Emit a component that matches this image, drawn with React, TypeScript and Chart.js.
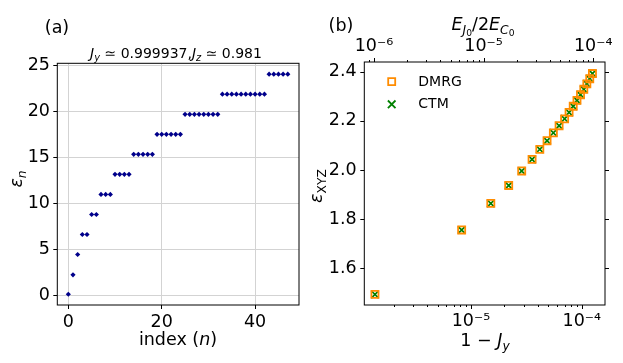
import React, { useEffect, useRef } from 'react';
import { Chart, registerables } from 'chart.js';

Chart.register(...registerables);

// ---------- Panel (a) data ----------
const indexN = [
  0, 1, 2, 3, 4, 5, 6, 7, 8, 9, 10, 11, 12, 13, 14, 15, 16, 17, 18, 19, 20, 21, 22, 23,
  24, 25, 26, 27, 28, 29, 30, 31, 32, 33, 34, 35, 36, 37, 38, 39, 40, 41, 42, 43, 44, 45, 46, 47,
];
const epsN = [
  0.08, 2.2, 4.42, 6.6, 6.6, 8.78, 8.78, 10.97, 10.97, 10.97,
  13.16, 13.16, 13.16, 13.16,
  15.34, 15.34, 15.34, 15.34, 15.34,
  17.52, 17.52, 17.52, 17.52, 17.52, 17.52,
  19.7, 19.7, 19.7, 19.7, 19.7, 19.7, 19.7, 19.7,
  21.9, 21.9, 21.9, 21.9, 21.9, 21.9, 21.9, 21.9, 21.9, 21.9,
  24.08, 24.08, 24.08, 24.08, 24.08,
];

// ---------- Panel (b) data ----------
const oneMinusJy = [
  1.36e-6, 8.24e-6, 1.51e-5, 2.19e-5, 2.87e-5, 3.56e-5, 4.18e-5, 4.86e-5, 5.54e-5, 6.24e-5,
  7.0e-5, 7.68e-5, 8.37e-5, 9.05e-5, 9.74e-5, 1.043e-4, 1.111e-4, 1.18e-4, 1.248e-4,
];
const dmrgEnergy = [
  1.494, 1.756, 1.864, 1.937, 1.996, 2.043, 2.084, 2.119, 2.151, 2.18,
  2.208, 2.234, 2.259, 2.283, 2.306, 2.328, 2.35, 2.371, 2.392,
];
const ctmEnergy = [
  1.494, 1.756, 1.864, 1.937, 1.996, 2.043, 2.084, 2.119, 2.151, 2.18,
  2.208, 2.234, 2.259, 2.283, 2.306, 2.328, 2.35, 2.371, 2.392,
];
const seriesNames = ['DMRG', 'CTM'];
const logTickExponents = [-6, -5, -4];

const FONT = '"DejaVu Sans", "Liberation Sans", sans-serif';
const TICK_SIZE = 17.5;
const SUP: Record<string, string> = {
  '-': '⁻', '0': '⁰', '1': '¹', '2': '²', '3': '³', '4': '⁴', '5': '⁵', '6': '⁶', '7': '⁷', '8': '⁸', '9': '⁹',
};
const sup = (n: number) => String(n).split('').map((c) => SUP[c] || c).join('');
const logLabel = (value: number) => {
  const e = Math.log10(value);
  const r = Math.round(e);
  if (Math.abs(e - r) < 1e-6 && logTickExponents.includes(r)) return '10' + sup(r);
  return '';
};

const framePlugin = {
  id: 'frame',
  afterDraw(chart: any) {
    const { ctx, chartArea } = chart;
    const { left, top, right, bottom } = chartArea;
    ctx.save();
    ctx.strokeStyle = '#000';
    ctx.lineWidth = 1;
    ctx.strokeRect(left, top, right - left, bottom - top);
    ctx.restore();
  },
};

const logTickValues = (min: number, max: number) => {
  const out: { v: number; major: boolean }[] = [];
  for (let e = Math.floor(Math.log10(min)); e <= Math.ceil(Math.log10(max)); e++) {
    for (let m = 1; m <= 9; m++) {
      const v = m * Math.pow(10, e);
      if (v >= min && v <= max) out.push({ v, major: m === 1 });
    }
  }
  return out;
};

const ticksPluginB = {
  id: 'ticksB',
  afterDraw(chart: any) {
    const { ctx, chartArea } = chart;
    const { left, top, right, bottom } = chartArea;
    const sx = chart.scales.x;
    const sx2 = chart.scales.x2;
    const sy = chart.scales.y;
    ctx.save();
    ctx.strokeStyle = '#000';
    ctx.lineWidth = 1;
    ctx.beginPath();
    for (const t of logTickValues(sx.min, sx.max)) {
      const px = Math.round(sx.getPixelForValue(t.v)) + 0.5;
      ctx.moveTo(px, bottom);
      ctx.lineTo(px, bottom + (t.major ? 4 : 2));
    }
    for (const t of logTickValues(sx2.min, sx2.max)) {
      const px = Math.round(sx2.getPixelForValue(t.v)) + 0.5;
      ctx.moveTo(px, top);
      ctx.lineTo(px, top - (t.major ? 4 : 2));
    }
    for (const t of sy.ticks) {
      const py = Math.round(sy.getPixelForValue(t.value)) + 0.5;
      ctx.moveTo(left - 4, py);
      ctx.lineTo(left, py);
      ctx.moveTo(right, py);
      ctx.lineTo(right + 4, py);
    }
    ctx.stroke();
    ctx.restore();
  },
};

const legendPluginB = {
  id: 'legendB',
  afterDraw(chart: any) {
    const { ctx, chartArea } = chart;
    const { left, top } = chartArea;
    ctx.save();
    chart.data.datasets.forEach((ds: any, i: number) => {
      const cx = left + 27.4;
      const cy = top + 19.7 + i * 22.6;
      ctx.strokeStyle = ds.borderColor;
      ctx.lineWidth = 1.8;
      ctx.beginPath();
      if (ds.pointStyle === 'rect') {
        ctx.rect(cx - 3.5, cy - 3.5, 7, 7);
      } else {
        ctx.moveTo(cx - 3.8, cy - 3.8);
        ctx.lineTo(cx + 3.8, cy + 3.8);
        ctx.moveTo(cx + 3.8, cy - 3.8);
        ctx.lineTo(cx - 3.8, cy + 3.8);
      }
      ctx.stroke();
      ctx.fillStyle = '#000';
      ctx.font = `14px ${FONT}`;
      ctx.textBaseline = 'middle';
      ctx.textAlign = 'left';
      ctx.fillText(ds.label, left + 54, cy + 0.5);
    });
    ctx.restore();
  },
};

function PanelA() {
  const ref = useRef<HTMLCanvasElement>(null);
  useEffect(() => {
    if (!ref.current) return;
    const chart = new Chart(ref.current, {
      type: 'scatter',
      data: {
        datasets: [
          {
            data: indexN.map((n, i) => ({ x: n, y: epsN[i] })),
            backgroundColor: '#00008b',
            borderColor: '#00008b',
            borderWidth: 0,
            pointStyle: 'rectRot',
            pointRadius: 2.6,
            pointHoverRadius: 2.6,
          },
        ],
      },
      options: {
        animation: false,
        responsive: false,
        devicePixelRatio: 1,
        events: [],
        layout: { padding: { top: 63.3, right: 12, left: 0, bottom: 0 } },
        plugins: { legend: { display: false }, tooltip: { enabled: false } },
        scales: {
          x: {
            type: 'linear',
            min: -2.36,
            max: 49.4,
            afterFit: (s: any) => { s.height = 58; },
            border: { display: false },
            grid: { color: '#d3d3d3', lineWidth: 1, tickColor: '#000', tickLength: 4 },
            ticks: {
              stepSize: 20,
              includeBounds: false,
              padding: 3.3,
              maxRotation: 0,
              color: '#000',
              font: { family: FONT, size: TICK_SIZE },
            },
          },
          y: {
            type: 'linear',
            min: -1.09,
            max: 25.27,
            afterFit: (s: any) => { s.width = 57.3; },
            border: { display: false },
            grid: { color: '#d3d3d3', lineWidth: 1, tickColor: '#000', tickLength: 4 },
            ticks: {
              stepSize: 5,
              includeBounds: false,
              padding: 3.3,
              color: '#000',
              font: { family: FONT, size: TICK_SIZE },
            },
          },
        },
      },
      plugins: [framePlugin],
    } as any);
    return () => chart.destroy();
  }, []);
  return (
    <canvas
      ref={ref}
      width={311}
      height={363}
      style={{ position: 'absolute', left: 0, top: 0, width: 311, height: 363 }}
    />
  );
}

function PanelB() {
  const ref = useRef<HTMLCanvasElement>(null);
  useEffect(() => {
    if (!ref.current) return;
    const chart = new Chart(ref.current, {
      type: 'scatter',
      data: {
        datasets: [
          {
            label: seriesNames[0],
            data: oneMinusJy.map((x, i) => ({ x, y: dmrgEnergy[i] })),
            backgroundColor: 'rgba(0,0,0,0)',
            borderColor: '#ff8c00',
            borderWidth: 1.8,
            pointStyle: 'rect',
            pointRadius: 5,
            pointHoverRadius: 5,
          },
          {
            label: seriesNames[1],
            data: oneMinusJy.map((x, i) => ({ x, y: ctmEnergy[i] })),
            backgroundColor: '#008000',
            borderColor: '#008000',
            borderWidth: 1.7,
            pointStyle: 'crossRot',
            pointRadius: 5.2,
            pointHoverRadius: 5.2,
          },
        ],
      },
      options: {
        animation: false,
        responsive: false,
        devicePixelRatio: 1,
        events: [],
        layout: { padding: 0 },
        plugins: { legend: { display: false }, tooltip: { enabled: false } },
        scales: {
          x: {
            type: 'logarithmic',
            position: 'bottom',
            min: 1.09e-6,
            max: 1.62e-4,
            afterFit: (s: any) => { s.height = 58; },
            border: { display: false },
            grid: { display: false, drawTicks: true, tickLength: 4 },
            ticks: {
              autoSkip: false,
              maxRotation: 0,
              minRotation: 0,
              padding: 2.3,
              color: '#000',
              font: { family: FONT, size: TICK_SIZE },
              callback: (v: any) => logLabel(Number(v)),
            },
          },
          x2: {
            type: 'logarithmic',
            position: 'top',
            min: 8.16e-7,
            max: 1.28e-4,
            afterFit: (s: any) => { s.height = 62; },
            border: { display: false },
            grid: { display: false, drawTicks: true, tickLength: 4 },
            ticks: {
              autoSkip: false,
              maxRotation: 0,
              minRotation: 0,
              padding: 0.6,
              color: '#000',
              font: { family: FONT, size: TICK_SIZE },
              callback: (v: any) => logLabel(Number(v)),
            },
          },
          y: {
            type: 'linear',
            position: 'left',
            min: 1.451,
            max: 2.439,
            afterFit: (s: any) => { s.width = 53.3; },
            border: { display: false },
            grid: { display: false, drawTicks: true, tickLength: 4 },
            ticks: {
              stepSize: 0.2,
              includeBounds: false,
              padding: 3.6,
              color: '#000',
              font: { family: FONT, size: TICK_SIZE },
              callback: (v: any) => Number(v).toFixed(1),
            },
          },
          y2: {
            type: 'linear',
            position: 'right',
            min: 1.451,
            max: 2.439,
            afterFit: (s: any) => { s.width = 18; },
            border: { display: false },
            grid: { display: false, drawTicks: false },
            ticks: { display: false, stepSize: 0.2, includeBounds: false },
          },
        },
      },
      plugins: [framePlugin, ticksPluginB, legendPluginB],
    } as any);
    return () => chart.destroy();
  }, []);
  return (
    <canvas
      ref={ref}
      width={312}
      height={363}
      style={{ position: 'absolute', left: 311, top: 0, width: 312, height: 363 }}
    />
  );
}

const Sub = ({ children }: { children: React.ReactNode }) => (
  <span style={{ fontSize: '0.7em', position: 'relative', top: '0.3em' }}>{children}</span>
);

const Sub2 = ({ children }: { children: React.ReactNode }) => (
  <span style={{ fontSize: '0.75em', position: 'relative', top: '0.2em' }}>{children}</span>
);

const Label = ({
  x, y, rotate = false, size = TICK_SIZE, children,
}: { x: number; y: number; rotate?: boolean; size?: number; children: React.ReactNode }) => (
  <div
    style={{
      position: 'absolute',
      left: x,
      top: y,
      transform: `translate(-50%, -50%)${rotate ? ' rotate(-90deg)' : ''}`,
      fontSize: size,
      lineHeight: 1,
      whiteSpace: 'nowrap',
      fontFamily: FONT,
      color: '#000',
    }}
  >
    {children}
  </div>
);

export default function App() {
  return (
    <div
      style={{
        position: 'absolute', left: 0, top: 0, width: 623, height: 363,
        background: '#fff', overflow: 'hidden',
      }}
    >
      <PanelA />
      <PanelB />
      <Label x={57} y={28}>(a)</Label>
      <Label x={176} y={53} size={14}>
        <i>J</i><Sub><i>y</i></Sub> ≃ 0.999937,<i>J</i><Sub><i>z</i></Sub> ≃ 0.981
      </Label>
      <Label x={17} y={179} rotate>
        <i>ε</i><Sub><i>n</i></Sub>
      </Label>
      <Label x={178} y={340}>
        index (<i>n</i>)
      </Label>
      <Label x={341} y={26}>(b)</Label>
      <Label x={483} y={25}>
        <i>E</i><Sub><i>J</i><Sub2>0</Sub2></Sub>/2<i>E</i><Sub><i>C</i><Sub2>0</Sub2></Sub>
      </Label>
      <Label x={317} y={186} rotate>
        <i>ε</i><Sub>XYZ</Sub>
      </Label>
      <Label x={485} y={341}>
        1 − <i>J</i><Sub><i>y</i></Sub>
      </Label>
    </div>
  );
}
